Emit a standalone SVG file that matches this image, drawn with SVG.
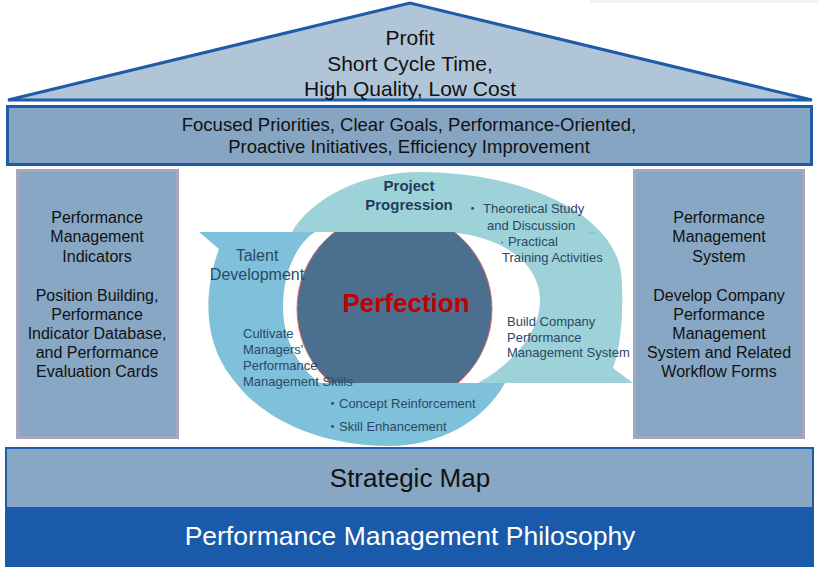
<svg xmlns="http://www.w3.org/2000/svg" width="819" height="569" viewBox="0 0 819 569">
<style>
text{font-family:"Liberation Sans",Arial,"Noto Sans CJK JP",sans-serif;}
.house{fill:#111;text-anchor:middle;}
.side{fill:#111;font-size:16px;text-anchor:middle;}
.lbl{fill:#2B4864;font-size:13px;}
.boxs{fill:#87A7C4;stroke:#A9A6C0;stroke-width:3;}
</style>
<defs>
<clipPath id="cclip"><rect x="280" y="232" width="230" height="151"/></clipPath>
</defs>
<rect width="819" height="569" fill="#fff"/>
<rect x="590" y="0" width="229" height="3" fill="#EDF3F7"/>

<g id="roof">
<polygon points="8,100 410,3 812,100" fill="#B1C5D9" stroke="#1F5BA6" stroke-width="3" stroke-linejoin="miter"/>
<text class="house" font-size="21" x="410" y="45">Profit</text>
<text class="house" font-size="21" x="410" y="71">Short Cycle Time,</text>
<text class="house" font-size="21" x="410" y="96">High Quality, Low Cost</text>
</g>

<g id="values-band">
<rect x="7.5" y="106.5" width="804" height="58" fill="#86A5C2" stroke="#1F5BA6" stroke-width="3"/>
<text class="house" font-size="18.5" x="409" y="131">Focused Priorities, Clear Goals, Performance-Oriented,</text>
<text class="house" font-size="18.5" x="409" y="153">Proactive Initiatives, Efficiency Improvement</text>
</g>

<g id="left-pillar">
<rect class="boxs" x="17.5" y="170.5" width="160" height="267"/>
<text class="side" x="97"><tspan x="97" y="223">Performance</tspan><tspan x="97" y="242">Management</tspan><tspan x="97" y="262">Indicators</tspan><tspan x="97" y="301">Position Building,</tspan><tspan x="97" y="320">Performance</tspan><tspan x="97" y="339">Indicator Database,</tspan><tspan x="97" y="358">and Performance</tspan><tspan x="97" y="377">Evaluation Cards</tspan></text>
</g>

<g id="right-pillar">
<rect class="boxs" x="634.5" y="170.5" width="169" height="267"/>
<text class="side" x="719"><tspan x="719" y="223">Performance</tspan><tspan x="719" y="242">Management</tspan><tspan x="719" y="262">System</tspan><tspan x="719" y="301">Develop Company</tspan><tspan x="719" y="320">Performance</tspan><tspan x="719" y="339">Management</tspan><tspan x="719" y="358">System and Related</tspan><tspan x="719" y="377">Workflow Forms</tspan></text>
</g>

<g id="connectors">
<path id="project-arrow" fill="#9DD2D8" d="M292,232 C310,200 360,172 420,172 C520,172 612,212 621,272 C624,300 622,345 613,368 L633,383 L478,383 C510,365 540,335 540,300 C540,265 505,236 447,232 Z"/>
<path id="talent-arrow" fill="#7FC0DA" d="M199,232 L219,249 C204,290 202,340 232,378 C262,420 320,446 390,446 C440,446 485,420 505,383 L320,383 C295,365 283,335 283,307 C283,275 295,245 315,232 Z"/>
</g>

<g id="perfection">
<circle cx="394.5" cy="309" r="97.5" fill="#4A6F8F" stroke="#D86A6A" stroke-width="1" clip-path="url(#cclip)"/>
<text x="406" y="312" font-size="26" font-weight="bold" fill="#C00000" text-anchor="middle">Perfection</text>
</g>

<g id="cycle-labels">
<text x="409" y="191" font-size="15" font-weight="bold" fill="#1F3D5A" text-anchor="middle">Project</text>
<text x="409" y="210" font-size="15" font-weight="bold" fill="#1F3D5A" text-anchor="middle">Progression</text>
<text class="lbl" y="213"><tspan x="466">・</tspan><tspan x="483">Theoretical Study</tspan></text>
<text class="lbl" x="487" y="230">and Discussion</text>
<text x="589" y="233" font-size="6" fill="#2B4864">…</text>
<text class="lbl" x="500" y="246">· Practical</text>
<text class="lbl" x="502" y="262">Training Activities</text>
<text x="257" y="261" font-size="16" fill="#2B4864" text-anchor="middle">Talent</text>
<text x="257" y="280" font-size="16" fill="#2B4864" text-anchor="middle">Development</text>
<text class="lbl" x="243" y="338">Cultivate</text>
<text class="lbl" x="243" y="354">Managers'</text>
<text class="lbl" x="243" y="370">Performance</text>
<text class="lbl" x="243" y="386">Management Skills</text>
<text class="lbl" x="507" y="326">Build Company</text>
<text class="lbl" x="507" y="342">Performance</text>
<text class="lbl" x="507" y="357">Management System</text>
<text class="lbl" font-size="12" x="326" y="408">・Concept Reinforcement</text>
<text class="lbl" font-size="12" x="326" y="431">・Skill Enhancement</text>
</g>

<g id="strategic-map">
<rect x="6" y="448" width="807" height="60" fill="#87A7C4" stroke="#1F5BA6" stroke-width="2"/>
<text class="house" font-size="26" x="410" y="487">Strategic Map</text>
</g>

<g id="philosophy">
<rect x="5" y="507" width="809" height="60" fill="#1A5AAA"/>
<text x="410" y="545" font-size="26.5" fill="#fff" text-anchor="middle">Performance Management Philosophy</text>
</g>
</svg>
